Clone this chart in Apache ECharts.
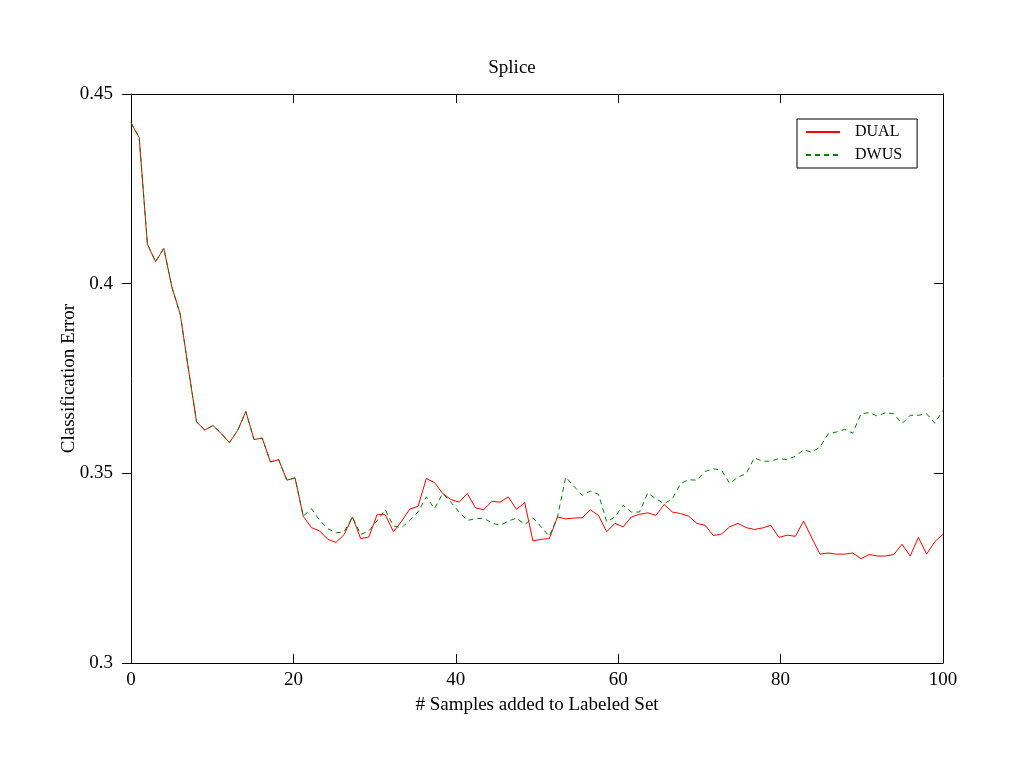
<!DOCTYPE html>
<html>
<head>
<meta charset="utf-8">
<title>Splice</title>
<script src="https://cdn.jsdelivr.net/npm/echarts@6/dist/echarts.min.js"></script>
<style>
  html, body { margin: 0; padding: 0; background: #fff; }
  #chart { width: 1024px; height: 768px; }
</style>
</head>
<body>
<div id="chart"></div>
<script>
// 100 samples, spread evenly over the 0..100 axis
const samples = Array.from({ length: 100 }, (_, i) => i);

const xTicks = [0, 20, 40, 60, 80, 100];
const yTicks = [0.3, 0.35, 0.4, 0.45];

const dual = [
  0.4424, 0.4385, 0.4104, 0.4058, 0.4093, 0.3990, 0.3920, 0.3775, 0.3635, 0.3614,
  0.3626, 0.3605, 0.3581, 0.3613, 0.3663, 0.3589, 0.3593, 0.3530, 0.3536, 0.3482,
  0.3488, 0.3387, 0.3357, 0.3348, 0.3326, 0.3318, 0.3339, 0.3385, 0.3328, 0.3332,
  0.3391, 0.3391, 0.3346, 0.3374, 0.3406, 0.3413, 0.3486, 0.3476, 0.3447, 0.3431,
  0.3424, 0.3447, 0.3409, 0.3404, 0.3426, 0.3424, 0.3438, 0.3405, 0.3423, 0.3322,
  0.3326, 0.3328, 0.3385, 0.3380, 0.3382, 0.3383, 0.3404, 0.3389, 0.3346, 0.3368,
  0.3359, 0.3385, 0.3392, 0.3396, 0.3389, 0.3418, 0.3398, 0.3394, 0.3387, 0.3368,
  0.3363, 0.3336, 0.3340, 0.3359, 0.3368, 0.3357, 0.3352, 0.3356, 0.3363, 0.3331,
  0.3337, 0.3334, 0.3374, 0.3330, 0.3287, 0.3290, 0.3287, 0.3287, 0.3290, 0.3275,
  0.3286, 0.3282, 0.3282, 0.3286, 0.3313, 0.3282, 0.3331, 0.3287, 0.3320, 0.3339
];

const dwus = [
  0.4424, 0.4385, 0.4104, 0.4058, 0.4093, 0.3990, 0.3920, 0.3775, 0.3635, 0.3614,
  0.3626, 0.3605, 0.3581, 0.3613, 0.3663, 0.3589, 0.3593, 0.3530, 0.3536, 0.3482,
  0.3488, 0.3387, 0.3407, 0.3376, 0.3354, 0.3343, 0.3346, 0.3385, 0.3339, 0.3348,
  0.3375, 0.3404, 0.3361, 0.3357, 0.3376, 0.3398, 0.3438, 0.3407, 0.3447, 0.3424,
  0.3398, 0.3376, 0.3380, 0.3382, 0.3369, 0.3363, 0.3374, 0.3382, 0.3365, 0.3383,
  0.3359, 0.3334, 0.3385, 0.3490, 0.3466, 0.3442, 0.3453, 0.3445, 0.3372, 0.3385,
  0.3416, 0.3398, 0.3398, 0.3448, 0.3433, 0.3420, 0.3433, 0.3473, 0.3483, 0.3482,
  0.3505, 0.3512, 0.3508, 0.3473, 0.3490, 0.3499, 0.3541, 0.3532, 0.3532, 0.3539,
  0.3536, 0.3545, 0.3562, 0.3556, 0.3569, 0.3604, 0.3609, 0.3616, 0.3606, 0.3657,
  0.3660, 0.3651, 0.3660, 0.3657, 0.3631, 0.3653, 0.3653, 0.3657, 0.3632, 0.3666
];

const serif = '"Liberation Serif", "DejaVu Serif", serif';

const chart = echarts.init(document.getElementById('chart'));

const frameAxis = {
  type: 'value',
  min: xTicks[0],
  max: xTicks[xTicks.length - 1],
  interval: xTicks[1] - xTicks[0],
  axisLine: { show: true, onZero: false, lineStyle: { color: '#000', width: 1 } },
  axisTick: { show: true, inside: true, length: 9, lineStyle: { color: '#000' } },
  splitLine: { show: false }
};

const frameYAxis = {
  type: 'value',
  min: yTicks[0],
  max: yTicks[yTicks.length - 1],
  interval: 0.05,
  axisLine: { show: true, onZero: false, lineStyle: { color: '#000', width: 1 } },
  axisTick: { show: true, inside: true, length: 9, lineStyle: { color: '#000' } },
  splitLine: { show: false }
};

const option = {
  backgroundColor: '#fff',
  animation: false,
  title: {
    text: 'Splice',
    left: 'center',
    top: 54,
    textStyle: { fontFamily: serif, fontSize: 19, fontWeight: 'normal', color: '#000' }
  },
  legend: {
    left: 797,
    top: 119,
    orient: 'vertical',
    itemWidth: 34,
    itemHeight: 10,
    itemGap: 7,
    padding: [5, 15, 5, 8],
    backgroundColor: '#fff',
    borderColor: '#000',
    borderWidth: 1,
    borderRadius: 0,
    itemStyle: { opacity: 0 },
    textStyle: { fontFamily: serif, fontSize: 16, color: '#000', padding: [0, 0, 0, 10] },
    data: ['DUAL', 'DWUS']
  },
  grid: { left: 131, right: 81, top: 94, bottom: 105 },
  xAxis: [
    Object.assign({}, frameAxis, {
      position: 'bottom',
      name: '# Samples added to Labeled Set',
      nameLocation: 'middle',
      nameGap: 33,
      nameTextStyle: { fontFamily: serif, fontSize: 19, color: '#000' },
      axisLabel: { fontFamily: serif, fontSize: 19, color: '#000', margin: 8 }
    }),
    Object.assign({}, frameAxis, {
      position: 'top',
      axisLabel: { show: false }
    }),
    {
      type: 'category',
      data: samples,
      boundaryGap: false,
      show: false
    }
  ],
  yAxis: [
    Object.assign({}, frameYAxis, {
      position: 'left',
      name: 'Classification Error',
      nameLocation: 'middle',
      nameGap: 52,
      nameMoveOverlap: false,
      nameTextStyle: { fontFamily: serif, fontSize: 19, color: '#000' },
      axisTick: { show: true, inside: false, length: 9, lineStyle: { color: '#000', width: 1 } },
      axisLabel: { fontFamily: serif, fontSize: 19, color: '#000', margin: 18 }
    }),
    Object.assign({}, frameYAxis, {
      position: 'right',
      axisLabel: { show: false }
    })
  ],
  series: [
    {
      name: 'DUAL',
      type: 'line',
      xAxisIndex: 2,
      yAxisIndex: 0,
      data: dual,
      symbol: 'none',
      lineStyle: { color: '#ff0000', width: 1, type: 'solid' },
      itemStyle: { color: '#ff0000' }
    },
    {
      name: 'DWUS',
      type: 'line',
      xAxisIndex: 2,
      yAxisIndex: 0,
      data: dwus,
      symbol: 'none',
      lineStyle: { color: '#008000', width: 1, type: [5, 4] },
      itemStyle: { color: '#008000' }
    }
  ]
};

chart.setOption(option);
</script>
</body>
</html>
